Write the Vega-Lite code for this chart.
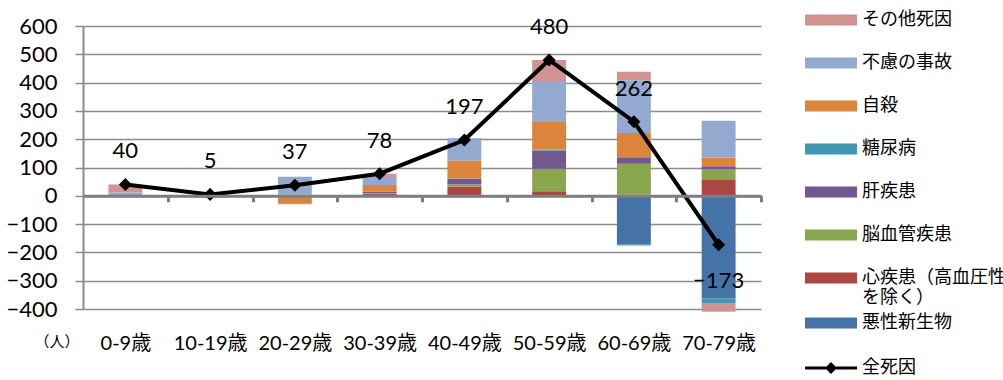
{
  "$schema": "https://vega.github.io/schema/vega-lite/v6.json",
  "width": 678,
  "height": 283,
  "autosize": {"type": "none"},
  "padding": {"left": 83, "top": 26, "right": 242, "bottom": 71},
  "background": "white",
  "config": {
    "font": "Lato, Noto Sans CJK JP",
    "view": {"stroke": null},
    "axis": {"labelColor": "black", "labelFont": "Lato, Noto Sans CJK JP"},
    "axisY": {
      "values": [-400, -300, -200, -100, 0, 100, 200, 300, 400, 500, 600],
      "grid": true, "gridColor": "#8c8c8c", "gridWidth": 1.5,
      "domain": true, "domainColor": "#8c8c8c", "domainWidth": 2,
      "ticks": true, "tickSize": 8, "tickColor": "#8c8c8c", "tickWidth": 1.5,
      "labelFontSize": 22, "labelPadding": 18, "labelFont": "Lato", "labelOverlap": false
    }
  },
  "datasets": {
    "bars": [
      {"age": "0-9歳", "cause": "不慮の事故", "value": 12, "ord": 7},
      {"age": "0-9歳", "cause": "その他死因", "value": 28, "ord": 8},
      {"age": "10-19歳", "cause": "不慮の事故", "value": 13, "ord": 7},
      {"age": "10-19歳", "cause": "その他死因", "value": -8, "ord": 8},
      {"age": "20-29歳", "cause": "心疾患（高血圧性を除く）", "value": 3, "ord": 2},
      {"age": "20-29歳", "cause": "脳血管疾患", "value": 2, "ord": 3},
      {"age": "20-29歳", "cause": "自殺", "value": -25, "ord": 6},
      {"age": "20-29歳", "cause": "不慮の事故", "value": 62, "ord": 7},
      {"age": "20-29歳", "cause": "その他死因", "value": -5, "ord": 8},
      {"age": "30-39歳", "cause": "悪性新生物", "value": 3, "ord": 1},
      {"age": "30-39歳", "cause": "心疾患（高血圧性を除く）", "value": 4, "ord": 2},
      {"age": "30-39歳", "cause": "脳血管疾患", "value": 3, "ord": 3},
      {"age": "30-39歳", "cause": "肝疾患", "value": 4, "ord": 4},
      {"age": "30-39歳", "cause": "糖尿病", "value": 2, "ord": 5},
      {"age": "30-39歳", "cause": "自殺", "value": 22, "ord": 6},
      {"age": "30-39歳", "cause": "不慮の事故", "value": 28, "ord": 7},
      {"age": "30-39歳", "cause": "その他死因", "value": 12, "ord": 8},
      {"age": "40-49歳", "cause": "心疾患（高血圧性を除く）", "value": 33, "ord": 2},
      {"age": "40-49歳", "cause": "脳血管疾患", "value": 7, "ord": 3},
      {"age": "40-49歳", "cause": "肝疾患", "value": 20, "ord": 4},
      {"age": "40-49歳", "cause": "糖尿病", "value": 1, "ord": 5},
      {"age": "40-49歳", "cause": "自殺", "value": 64, "ord": 6},
      {"age": "40-49歳", "cause": "不慮の事故", "value": 78, "ord": 7},
      {"age": "40-49歳", "cause": "その他死因", "value": -6, "ord": 8},
      {"age": "50-59歳", "cause": "心疾患（高血圧性を除く）", "value": 16, "ord": 2},
      {"age": "50-59歳", "cause": "脳血管疾患", "value": 80, "ord": 3},
      {"age": "50-59歳", "cause": "肝疾患", "value": 64, "ord": 4},
      {"age": "50-59歳", "cause": "糖尿病", "value": 3, "ord": 5},
      {"age": "50-59歳", "cause": "自殺", "value": 98, "ord": 6},
      {"age": "50-59歳", "cause": "不慮の事故", "value": 145, "ord": 7},
      {"age": "50-59歳", "cause": "その他死因", "value": 74, "ord": 8},
      {"age": "60-69歳", "cause": "悪性新生物", "value": -171, "ord": 1},
      {"age": "60-69歳", "cause": "心疾患（高血圧性を除く）", "value": 5, "ord": 2},
      {"age": "60-69歳", "cause": "脳血管疾患", "value": 108, "ord": 3},
      {"age": "60-69歳", "cause": "肝疾患", "value": 23, "ord": 4},
      {"age": "60-69歳", "cause": "糖尿病", "value": -5, "ord": 5},
      {"age": "60-69歳", "cause": "自殺", "value": 86, "ord": 6},
      {"age": "60-69歳", "cause": "不慮の事故", "value": 186, "ord": 7},
      {"age": "60-69歳", "cause": "その他死因", "value": 30, "ord": 8},
      {"age": "70-79歳", "cause": "悪性新生物", "value": -362, "ord": 1},
      {"age": "70-79歳", "cause": "心疾患（高血圧性を除く）", "value": 56, "ord": 2},
      {"age": "70-79歳", "cause": "脳血管疾患", "value": 37, "ord": 3},
      {"age": "70-79歳", "cause": "肝疾患", "value": 11, "ord": 4},
      {"age": "70-79歳", "cause": "糖尿病", "value": -17, "ord": 5},
      {"age": "70-79歳", "cause": "自殺", "value": 31, "ord": 6},
      {"age": "70-79歳", "cause": "不慮の事故", "value": 130, "ord": 7},
      {"age": "70-79歳", "cause": "その他死因", "value": -31, "ord": 8}
    ],
    "totals": [
      {"age": "0-9歳", "total": 40, "series": "全死因"},
      {"age": "10-19歳", "total": 5, "series": "全死因"},
      {"age": "20-29歳", "total": 37, "series": "全死因"},
      {"age": "30-39歳", "total": 78, "series": "全死因"},
      {"age": "40-49歳", "total": 197, "series": "全死因"},
      {"age": "50-59歳", "total": 480, "series": "全死因"},
      {"age": "60-69歳", "total": 262, "series": "全死因"},
      {"age": "70-79歳", "total": -173, "series": "全死因"}
    ]
  },
  "encoding": {
    "x": {
      "field": "age", "type": "nominal",
      "scale": {"domain": ["0-9歳", "10-19歳", "20-29歳", "30-39歳", "40-49歳", "50-59歳", "60-69歳", "70-79歳"], "paddingInner": 0.6, "paddingOuter": 0.3},
      "axis": {"orient": "bottom", "offset": -113.2, "grid": false, "title": null,
               "domain": true, "domainColor": "#7f7f7f", "domainWidth": 3,
               "ticks": true, "tickColor": "#7f7f7f", "tickWidth": 3, "tickSize": 6,
               "tickOffset": 42.375, "labelOffset": -42.375, "zindex": 1,
               "labelAngle": 0, "labelPadding": 132, "labelFontSize": 20, "labelBaseline": "top"}
    },
    "y": {
      "type": "quantitative",
      "scale": {"domain": [-400, 600], "nice": false},
      "axis": {
        "title": "（人）", "titleAngle": 0, "titleX": -49, "titleY": 315,
        "titleAlign": "left", "titleBaseline": "middle", "titleFontSize": 15,
        "titleFontWeight": "normal", "titleFont": "Noto Sans CJK JP", "titleColor": "black"
      }
    }
  },
  "layer": [
    {
      "data": {"name": "bars"},
      "mark": {"type": "bar"},
      "encoding": {
        "y": {"field": "value", "type": "quantitative", "stack": "zero"},
        "color": {
          "field": "cause", "type": "nominal",
          "scale": {
            "domain": ["その他死因", "不慮の事故", "自殺", "糖尿病", "肝疾患", "脳血管疾患", "心疾患（高血圧性を除く）", "悪性新生物"],
            "range": ["#D19392", "#93A9CF", "#DB843D", "#4198AF", "#71588F", "#89A54E", "#AA4643", "#4572A7"]
          },
          "legend": {
            "orient": "none", "legendX": 722, "legendY": -18, "title": null,
            "values": ["その他死因", "不慮の事故", "自殺", "糖尿病", "肝疾患", "脳血管疾患", "心疾患（高血圧性を除く）"],
            "symbolType": "M-1,-0.21H1V0.21H-1Z", "symbolSize": 2704,
            "symbolStrokeWidth": 0, "symbolOpacity": 1,
            "clipHeight": 24, "rowPadding": 19,
            "labelFont": "Noto Sans CJK JP", "labelFontSize": 18, "labelColor": "black",
            "labelOffset": 5, "labelLimit": 200,
            "labelExpr": "datum.label == '心疾患（高血圧性を除く）' ? ['心疾患（高血圧性', 'を除く）'] : datum.label"
          }
        },
        "order": {"field": "ord", "type": "quantitative"}
      }
    },
    {
      "data": {"name": "bars"},
      "transform": [{"filter": "datum.cause == '悪性新生物'"}],
      "mark": {"type": "point", "filled": true, "color": "#4572A7", "size": 0, "strokeWidth": 0},
      "encoding": {
        "y": {"field": "value", "type": "quantitative"},
        "opacity": {
          "field": "cause", "type": "ordinal",
          "scale": {"range": [1]},
          "legend": {
            "orient": "none", "legendX": 722, "legendY": 285, "title": null,
            "symbolType": "M-1,-0.21H1V0.21H-1Z", "symbolSize": 2704,
            "symbolStrokeWidth": 0, "symbolOpacity": 1, "symbolFillColor": "#4572A7",
            "clipHeight": 24,
            "labelFont": "Noto Sans CJK JP", "labelFontSize": 18, "labelColor": "black",
            "labelOffset": 5, "labelLimit": 200
          }
        }
      }
    },
    {
      "data": {"name": "totals"},
      "mark": {"type": "line", "color": "black", "strokeWidth": 4},
      "encoding": {
        "y": {"field": "total", "type": "quantitative"}
      }
    },
    {
      "data": {"name": "totals"},
      "mark": {"type": "point", "filled": true, "color": "black", "size": 170, "opacity": 1, "shape": "diamond"},
      "encoding": {
        "y": {"field": "total", "type": "quantitative"}
      }
    },
    {
      "data": {"name": "totals"},
      "mark": {"type": "point", "filled": true, "color": "black", "opacity": 0},
      "encoding": {
        "y": {"field": "total", "type": "quantitative"},
        "shape": {
          "field": "series", "type": "nominal",
          "scale": {"range": ["M-1,-0.055H1V0.055H-1Z M0,-0.23L0.23,0L0,0.23L-0.23,0Z"]},
          "legend": {
            "orient": "none", "legendX": 722, "legendY": 330, "title": null,
            "symbolSize": 2704, "symbolOpacity": 1, "symbolFillColor": "black", "symbolStrokeWidth": 0,
            "clipHeight": 24,
            "labelFont": "Noto Sans CJK JP", "labelFontSize": 18, "labelColor": "black", "labelOffset": 5
          }
        }
      }
    },
    {
      "data": {"name": "totals"},
      "transform": [{"filter": "datum.total >= 0"}],
      "mark": {"type": "text", "dy": -33, "fontSize": 22, "font": "Lato", "color": "black"},
      "encoding": {
        "y": {"field": "total", "type": "quantitative"},
        "text": {"field": "total", "type": "quantitative"}
      }
    },
    {
      "data": {"name": "totals"},
      "transform": [{"filter": "datum.total < 0"}],
      "mark": {"type": "text", "dy": 36, "fontSize": 22, "font": "Lato", "color": "black"},
      "encoding": {
        "y": {"field": "total", "type": "quantitative"},
        "text": {"field": "total", "type": "quantitative"}
      }
    }
  ]
}
